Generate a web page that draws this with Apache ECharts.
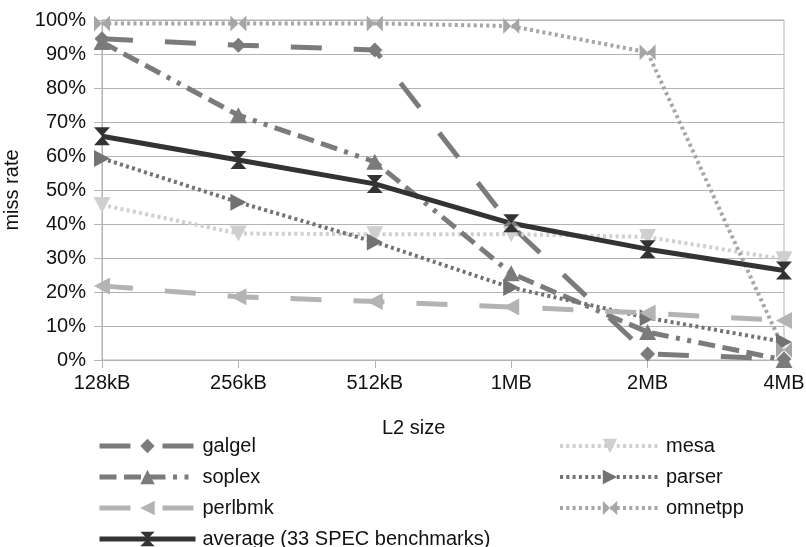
<!DOCTYPE html>
<html>
<head>
<meta charset="utf-8">
<script src="https://cdn.jsdelivr.net/npm/echarts@6/dist/echarts.min.js"></script>
<style>
html,body{margin:0;padding:0;background:#fff;}
#chart{width:806px;height:547px;}
</style>
</head>
<body>
<div id="chart"></div>
<script>
// ---- data ----
var categories = ['128kB', '256kB', '512kB', '1MB', '2MB', '4MB'];
var galgel   = [94.5, 92.6, 91.2, 39.5, 1.8, 0.3];
var mesa     = [45.6, 37.2, 37.0, 37.0, 36.2, 29.6];
var soplex   = [93.5, 72.0, 58.3, 25.5, 8.2, 0];
var parser   = [59.3, 46.4, 34.7, 21.3, 12.4, 5.3];
var perlbmk  = [21.8, 18.6, 17.2, 15.6, 13.8, 11.6];
var omnetpp  = [99.0, 99.0, 99.0, 98.2, 90.5, 3.0];
var average  = [65.8, 58.8, 51.8, 40.2, 32.6, 26.3];
var yTicks = [0, 10, 20, 30, 40, 50, 60, 70, 80, 90, 100];
var seriesNames = ['galgel', 'mesa', 'soplex', 'parser', 'perlbmk', 'omnetpp', 'average (33 SPEC benchmarks)'];

var FONT = 'Liberation Sans';
var chart = echarts.init(document.getElementById('chart'), null, {renderer: 'canvas'});

var SYM = {
  down: 'path://M0,0L10,0L5,10Z',
  right: 'path://M0,0L10,5L0,10Z',
  left: 'path://M10,0L0,5L10,10Z',
  bowtie: 'path://M0,0L5,5L0,10Z M10,0L5,5L10,10Z',
  hourglass: 'path://M0,0L10,0L5,5Z M0,10L10,10L5,5Z'
};

function mk(name, data, color, dash, width, symbol, size) {
  return {
    name: name, type: 'line', data: data,
    symbol: symbol, symbolSize: size, showSymbol: true,
    lineStyle: {color: color, width: width, type: dash, cap: 'butt'},
    itemStyle: {color: color, borderWidth: 0},
    emphasis: {disabled: true},
    animation: false
  };
}

var dotted = [3, 3.3];
var longDash = [31, 32];
var dashDot = [17, 7.5, 17, 7.5, 17, 7.5, 4, 7.5, 4, 7.5];

var legendCommon = {
  orient: 'vertical', top: 436, padding: 0, itemHeight: 18, itemGap: 11, height: 120,
  selectedMode: false,
  lineStyle: {width: 'inherit'}
};

var option = {
  backgroundColor: '#fff',
  animation: false,
  textStyle: {fontFamily: FONT},
  title: {
    text: 'L2 size', left: 382, top: 418, padding: 0,
    textStyle: {fontFamily: FONT, fontSize: 20, fontWeight: 'normal', color: '#111'}
  },
  grid: {left: 102, right: 22, top: 20, bottom: 187, outerBoundsMode: 'none', containLabel: false,
         show: true, borderColor: '#b3b3b3', borderWidth: 1},
  legend: [
    Object.assign({}, legendCommon, {
      data: ['galgel', 'soplex', 'perlbmk', 'average (33 SPEC benchmarks)'],
      left: 97, itemWidth: 96,
      textStyle: {fontFamily: FONT, fontSize: 20, color: '#111', padding: [0, 0, 0, 2]}
    }),
    Object.assign({}, legendCommon, {
      data: ['mesa', 'parser', 'omnetpp'],
      left: 558, itemWidth: 100,
      textStyle: {fontFamily: FONT, fontSize: 20, color: '#111', padding: [0, 0, 0, 1]}
    })
  ],
  xAxis: {
    type: 'category', data: categories, boundaryGap: false,
    axisLine: {show: true, lineStyle: {color: '#b3b3b3', width: 1}},
    axisTick: {show: true, length: 8, alignWithLabel: true, lineStyle: {color: '#b3b3b3'}},
    axisLabel: {fontFamily: FONT, fontSize: 20, color: '#111', margin: 13},
    splitLine: {show: false}
  },
  yAxis: {
    type: 'value', min: yTicks[0], max: yTicks[yTicks.length - 1], interval: 10,
    name: 'miss rate', nameLocation: 'middle', nameGap: 80, nameRotate: 90,
    nameTextStyle: {fontFamily: FONT, fontSize: 20, color: '#111'},
    axisLine: {show: true, lineStyle: {color: '#b3b3b3', width: 1}},
    axisTick: {show: true, length: 8, lineStyle: {color: '#b3b3b3'}},
    axisLabel: {fontFamily: FONT, fontSize: 20, color: '#111', margin: 16, formatter: '{value}%'},
    splitLine: {show: true, lineStyle: {color: '#b3b3b3', width: 1}}
  },
  series: [
    mk(seriesNames[0], galgel, '#7b7b7b', longDash, 5, 'diamond', 15),
    mk(seriesNames[1], mesa, '#cfcfcf', dotted, 4, SYM.down, [17, 16]),
    mk(seriesNames[2], soplex, '#7b7b7b', dashDot, 5, 'triangle', [17, 16]),
    mk(seriesNames[3], parser, '#727272', dotted, 4, SYM.right, [16, 17]),
    mk(seriesNames[4], perlbmk, '#b3b3b3', longDash, 5, SYM.left, [16, 17]),
    mk(seriesNames[5], omnetpp, '#a6a6a6', dotted, 4, SYM.bowtie, [16, 16]),
    mk(seriesNames[6], average, '#333333', 'solid', 5, SYM.hourglass, [16, 18])
  ]
};
chart.setOption(option);
</script>
</body>
</html>
